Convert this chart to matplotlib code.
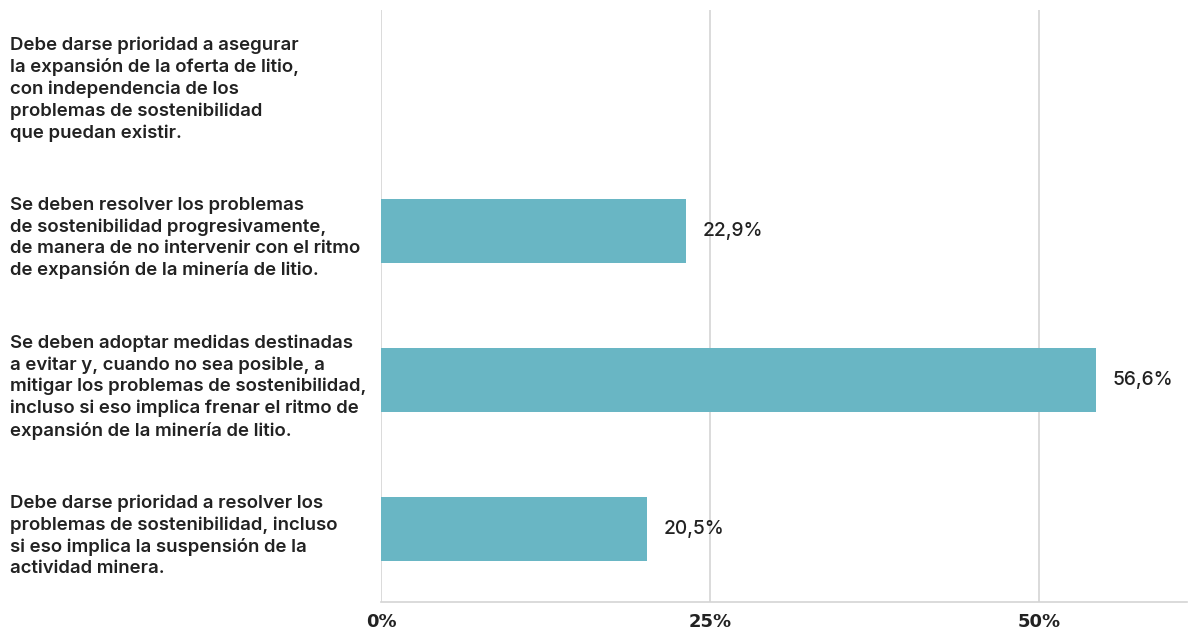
import matplotlib
matplotlib.use("Agg")
import matplotlib.pyplot as plt
import matplotlib.transforms as mtransforms
from matplotlib.ticker import FuncFormatter

# ---------- Data ----------
categories = [
    "Debe darse prioridad a asegurar\nla expansión de la oferta de litio,\ncon independencia de los\nproblemas de sostenibilidad\nque puedan existir.",
    "Se deben resolver los problemas\nde sostenibilidad progresivamente,\nde manera de no intervenir con el ritmo\nde expansión de la minería de litio.",
    "Se deben adoptar medidas destinadas\na evitar y, cuando no sea posible, a\nmitigar los problemas de sostenibilidad,\nincluso si eso implica frenar el ritmo de\nexpansión de la minería de litio.",
    "Debe darse prioridad a resolver los\nproblemas de sostenibilidad, incluso\nsi eso implica la suspensión de la\nactividad minera.",
]
# bar lengths as drawn in the picture (%), and the labels printed next to them
bar_lengths = [0.0, 23.2, 54.3, 20.2]
value_labels = ["", "22,9%", "56,6%", "20,5%"]
xticks = [0, 25, 50]

bar_color = "#69b6c4"
text_color = "#222222"
grid_color = "#d4d4d4"

fig = plt.figure(figsize=(11.89, 6.3), dpi=100)
ax = fig.add_axes([381 / 1189, 28 / 630, 806 / 1189, 592 / 630])

ypos = list(range(len(categories)))
ax.barh(ypos, bar_lengths, height=0.43, color=bar_color, zorder=3)

# value labels next to bars
for y, v, lab in zip(ypos, bar_lengths, value_labels):
    if lab:
        ax.annotate(lab, (v, y), xytext=(12, 0), textcoords="offset points",
                    va="center", ha="left", fontsize=13.8, color=text_color,
                    family="Inter", fontweight="medium")

# category labels, left-aligned at the figure edge (sit a little below bar centre)
cat_trans = mtransforms.offset_copy(ax.get_yaxis_transform(), fig=fig, x=0, y=-5, units="points")
for y, cat in zip(ypos, categories):
    ax.text(-371 / 806, y, cat, transform=cat_trans,
            ha="left", va="center", fontsize=13.4, color=text_color,
            family="Inter", fontweight="semibold", linespacing=1.32)

ax.set_ylim(3.49, -0.483)
ax.set_xlim(0, 61.25)
ax.set_yticks([])
ax.set_xticks(xticks)
ax.xaxis.set_major_formatter(FuncFormatter(lambda x, p: f"{x:.0f}%"))
ax.tick_params(axis="x", length=0, pad=8, labelsize=13, colors=text_color)
for lbl in ax.get_xticklabels():
    lbl.set_family("DejaVu Sans")
    lbl.set_fontweight("bold")

ax.grid(axis="x", color=grid_color, linewidth=1.2, zorder=0)
for side in ["top", "right", "left"]:
    ax.spines[side].set_visible(False)
ax.spines["bottom"].set_color(grid_color)
ax.spines["bottom"].set_linewidth(1.2)

fig.savefig("out.png", dpi=100)
